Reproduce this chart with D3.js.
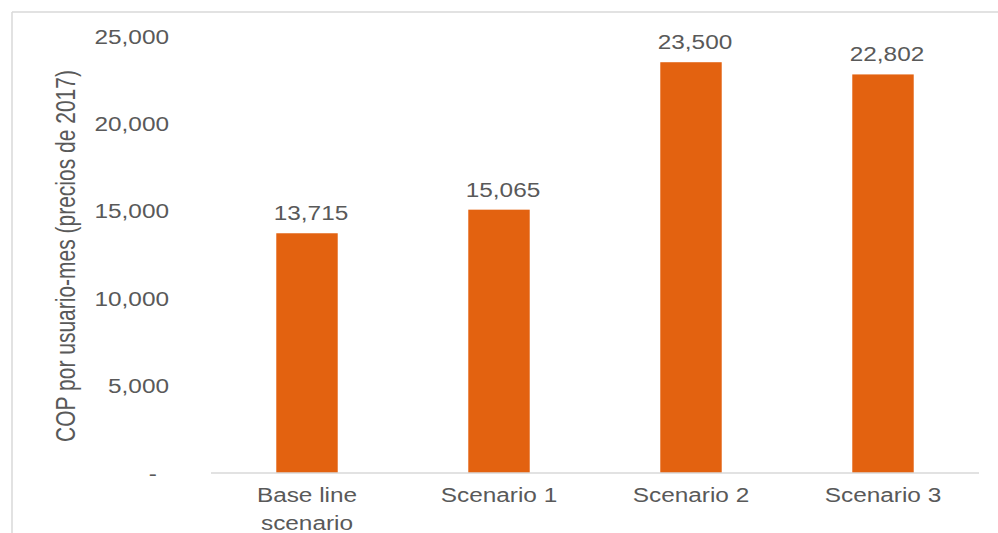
<!DOCTYPE html>
<html>
<head>
<meta charset="utf-8">
<script src="https://cdn.jsdelivr.net/npm/d3@7"></script>
<style>
  html, body { margin: 0; padding: 0; background: #fff; }
  svg text { font-family: "Liberation Sans", Arial, sans-serif; fill: #595959; }
</style>
</head>
<body>
<div id="chart"></div>
<script>
var categories = ["Base line\nscenario", "Scenario 1", "Scenario 2", "Scenario 3"];
var values = [13715, 15065, 23500, 22802];
var yTicks = [0, 5000, 10000, 15000, 20000, 25000];
var yTitle = "COP por usuario-mes (precios de 2017)";

var w = 998, h = 533;
var barColor = "#e36210";
var lineColor = "#d9d9d9";
var stretch = 1.25; // text in the picture is drawn wide

var svg = d3.select("#chart").append("svg")
  .attr("width", w)
  .attr("height", h);

// frame (top and left edges only)
svg.append("line")
  .attr("x1", 12).attr("y1", 12).attr("x2", w).attr("y2", 12)
  .style("stroke", lineColor).style("stroke-width", 1.5);
svg.append("line")
  .attr("x1", 12).attr("y1", 12).attr("x2", 12).attr("y2", h)
  .style("stroke", lineColor).style("stroke-width", 1.5);

var x = d3.scaleBand()
  .domain(categories)
  .range([211, 979])
  .paddingInner(0.68)
  .paddingOuter(0.34);

var y = d3.scaleLinear()
  .domain([0, 25000])
  .range([473, 36]);

var fmt = d3.format(",");

// y axis labels only
var yAxis = svg.append("g")
  .attr("transform", "translate(211,0)")
  .call(d3.axisLeft(y)
    .tickValues(yTicks)
    .tickSize(0)
    .tickFormat(function(d) { return d === 0 ? "-" : fmt(d); }));
yAxis.select(".domain").remove();
yAxis.selectAll("text")
  .attr("x", 0)
  .attr("dy", "0.36em")
  .style("font-size", "19.5px")
  .style("font-family", null)
  .attr("fill", null)
  .attr("transform", function(d) {
    return "translate(" + (d === 0 ? -54 : -42) + ",0) scale(" + stretch + ",1)";
  });

// bars
svg.selectAll(".bar")
  .data(values)
  .enter().append("rect")
  .attr("class", "bar")
  .attr("x", function(d, i) { return x(categories[i]); })
  .attr("width", x.bandwidth())
  .attr("y", function(d) { return y(d); })
  .attr("height", function(d) { return y(0) - y(d); })
  .style("fill", barColor);

// baseline
svg.append("line")
  .attr("x1", x.range()[0]).attr("x2", x.range()[1])
  .attr("y1", y(0)).attr("y2", y(0))
  .style("stroke", lineColor).style("stroke-width", 1.5);

// value labels
svg.selectAll(".val")
  .data(values)
  .enter().append("text")
  .attr("class", "val")
  .attr("text-anchor", "middle")
  .style("font-size", "19.5px")
  .attr("transform", function(d, i) {
    var cx = x(categories[i]) + x.bandwidth() / 2 + 4;
    return "translate(" + cx + "," + (y(d) - 13) + ") scale(" + stretch + ",1)";
  })
  .text(function(d) { return fmt(d); });

// category labels
var cat = svg.selectAll(".cat")
  .data(categories)
  .enter().append("text")
  .attr("class", "cat")
  .attr("text-anchor", "middle")
  .style("font-size", "19.5px")
  .attr("transform", function(d) {
    return "translate(" + (x(d) + x.bandwidth() / 2) + ",502) scale(" + stretch + ",1)";
  });
cat.selectAll("tspan")
  .data(function(d) { return d.split("\n"); })
  .enter().append("tspan")
  .attr("x", 0)
  .attr("dy", function(d, i) { return i === 0 ? 0 : 28; })
  .text(function(d) { return d; });

// y title
svg.append("text")
  .attr("text-anchor", "middle")
  .style("font-size", "21px")
  .attr("transform", "translate(75,256) rotate(-90) scale(1,1.35)")
  .text(yTitle);
</script>
</body>
</html>
